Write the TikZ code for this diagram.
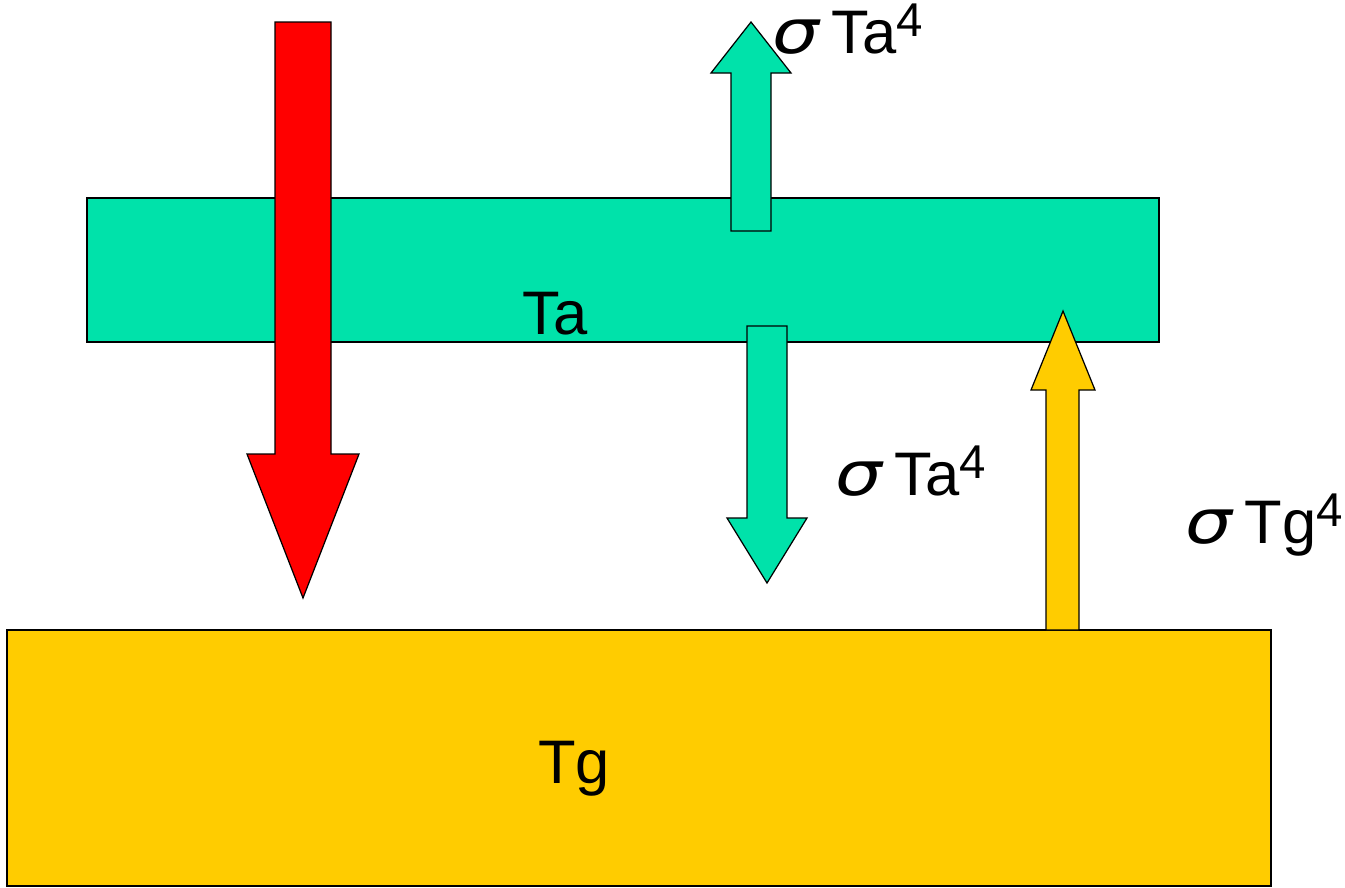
\documentclass[tikz,border=0pt]{standalone}
\usepackage{fontspec}
\setmainfont{Liberation Sans}
\newfontfamily\greekfont{DejaVu Sans}
\definecolor{airgreen}{RGB}{0,226,170}
\definecolor{soilgold}{RGB}{255,204,0}
\definecolor{sunred}{RGB}{255,0,0}
\newcommand{\sig}{\scalebox{1.2}[1]{\greekfont\itshape σ}\hspace{0.2em}}
\newcommand{\pow}{\raisebox{0.27em}{\fontsize{27}{27}\selectfont 4}}

\begin{document}
\begin{tikzpicture}[x=0.02cm, y=-0.02cm,
  layer/.style={draw=black, line width=1pt},
  blockarrow/.style={draw=black, line width=0.7pt, line join=miter},
  lbl/.style={font=\fontsize{35}{40}\selectfont, anchor=base west, inner sep=0pt},
]
\useasboundingbox (0,0) rectangle (1345,887);

% Atmosphere and ground layers
\draw[layer, fill=airgreen] (87,198) rectangle (1159,342);
\draw[layer, fill=soilgold] (7,630) rectangle (1271,886);

% Incoming sunlight
\draw[blockarrow, fill=sunred] (275,22) -- (331,22) -- (331,454) -- (359,454)
  -- (303,598) -- (247,454) -- (275,454) -- cycle;

% Atmosphere emission, up and down
\draw[blockarrow, fill=airgreen] (731,231) -- (771,231) -- (771,73) -- (791,73)
  -- (751,22) -- (711,73) -- (731,73) -- cycle;
\draw[blockarrow, fill=airgreen] (747,326) -- (787,326) -- (787,518) -- (807,518)
  -- (767,583) -- (727,518) -- (747,518) -- cycle;

% Ground emission
\draw[blockarrow, fill=soilgold] (1046,630) -- (1079,630) -- (1079,390) -- (1095,390)
  -- (1063,311) -- (1031,390) -- (1046,390) -- cycle;

% Labels
\node[lbl] (ta) at (522,334) {Ta};
\node[lbl] (tg) at (538,783) {Tg};
\node[lbl] (upflux) at (772,53) {\sig Ta\pow};
\node[lbl] (downflux) at (835,495) {\sig Ta\pow};
\node[lbl] (groundflux) at (1185,543) {\sig Tg\pow};

\end{tikzpicture}
\end{document}
